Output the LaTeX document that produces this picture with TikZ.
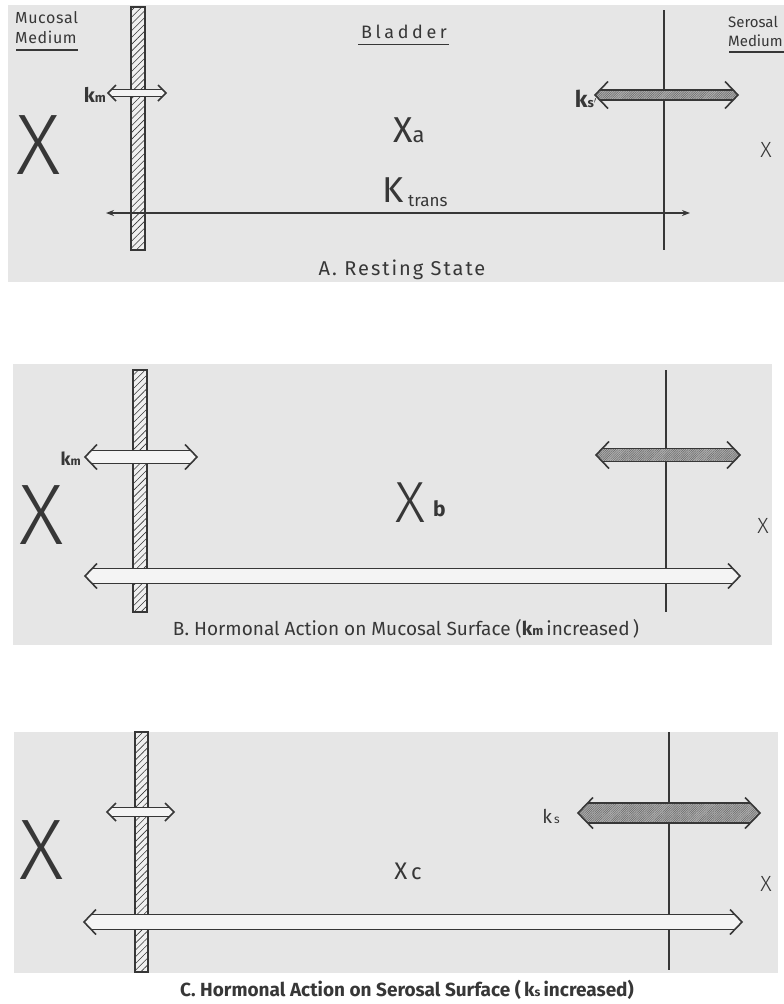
\documentclass[tikz,border=0pt]{standalone}
\usepackage{fontspec}
\setmainfont{Fira Sans}
\newfontfamily\thinfont{Fira Sans Light}
\usetikzlibrary{patterns, patterns.meta, arrows.meta, positioning}
\definecolor{ink}{RGB}{55,55,55}
\definecolor{paper}{RGB}{230,230,230}

% outlined double arrow with open heads: y, x0, x1, body half, head half, head length, fill
\newcommand{\flux}[7]{%
  \pgfmathsetmacro\fluxd{#6*#4/#5}
  \fill[#7] (#2,#1) -- ({#2+\fluxd},{#1-#4}) -- ({#3-\fluxd},{#1-#4}) -- (#3,#1)
    -- ({#3-\fluxd},{#1+#4}) -- ({#2+\fluxd},{#1+#4}) -- cycle;
  \draw[fluxline] ({#2+\fluxd},{#1-#4}) -- ({#3-\fluxd},{#1-#4})
    ({#2+\fluxd},{#1+#4}) -- ({#3-\fluxd},{#1+#4});
  \draw[fluxline] ({#2+#6},{#1-#5}) -- (#2,#1) -- ({#2+#6},{#1+#5})
    ({#3-#6},{#1-#5}) -- (#3,#1) -- ({#3-#6},{#1+#5});
}

\begin{document}
\begin{tikzpicture}[
    x=1pt, y=-1pt,
    panel/.style={fill=paper, draw=none},
    mucosa/.style={draw=ink, line width=1.2pt, fill=white!40!paper,
                   postaction={pattern={Lines[angle=45, distance=4.8pt, line width=0.6pt]}, pattern color=ink}},
    serosa/.style={draw=ink, line width=2.5pt},
    fluxline/.style={draw=ink, line width=1.6pt, line join=miter},
    light/.style={fill=white!55!paper},
    dark/.style={fill=black!30, postaction={pattern={Lines[angle=45, distance=1.6pt, line width=0.5pt]}, pattern color=black!60}},
    lbl/.style={inner sep=0pt, text=ink},
    bigx/.style={lbl, font=\thinfont\fontsize{86}{86}\selectfont},
    smallx/.style={lbl, font=\thinfont\fontsize{22}{22}\selectfont},
    caption/.style={lbl, font=\fontsize{19}{19}\selectfont},
    uline/.style={draw=ink, line width=1.3pt}
]
\useasboundingbox (0,0) rectangle (784,1004);

% ---------- A. resting state
\fill[panel] (8,5) rectangle (784,282);
\draw[mucosa] (131,7) rectangle (145,250);
\draw[serosa] (664,10) -- (664,250);

\coordinate (transAl) at (106,213);
\coordinate (transAr) at (690,213);
\draw[draw=ink, line width=1.6pt, {Stealth[length=8pt,width=6pt]}-{Stealth[length=8pt,width=6pt]}] (transAl) -- (transAr);

\flux{93}{108}{166}{3.5}{8}{8}{light}
\flux{95}{595}{738}{5}{13.5}{13}{dark}

\node[lbl, anchor=north west, align=left, font=\fontsize{16}{20}\selectfont\addfontfeature{LetterSpace=4}] (mucA) at (15,11) {Mucosal\\Medium};
\draw[uline] (16,50) -- (78,50);
\node[lbl, font=\fontsize{18}{18}\selectfont\addfontfeature{LetterSpace=20}] (bladder) at (404,32) {Bladder};
\draw[uline] (358,44.5) -- (449,44.5);
\node[lbl, anchor=north east, align=left, font=\fontsize{15}{19}\selectfont] (serA) at (783,16) {Serosal\\Medium};
\draw[uline] (729,52) -- (784,52);

\node[lbl, anchor=east, font=\bfseries\fontsize{20}{20}\selectfont] (kmA) at (106,95) {k{\fontsize{13}{13}\selectfont m}};
\node[lbl, anchor=east, font=\bfseries\fontsize{23}{23}\selectfont] (ksA) at (597,99) {k{\fontsize{13}{13}\selectfont s$'$}};
\node[lbl, font=\fontsize{36}{36}\selectfont] (xa) at (409,130) {X{\fontsize{22}{22}\selectfont a}};
\node[lbl, font=\fontsize{36}{36}\selectfont] (ktrans) at (393,190) {K};
\node[lbl, anchor=base west, font=\fontsize{17}{17}\selectfont] (transsub) at (408,206) {trans};
\node[smallx] (serxA) at (766,150) {X};
\node[bigx] (mucxA) at (39,145) {X};
\node[lbl, font=\fontsize{20}{20}\selectfont\addfontfeature{LetterSpace=10}] (capA) at (402,270) {A. Resting State};

% ---------- B. hormone on mucosal side
\fill[panel] (13,364) rectangle (772,645);
\draw[mucosa] (133,370) rectangle (147,612);
\draw[serosa] (666,370) -- (666,612);

\flux{576}{85}{740}{7.5}{12.5}{12}{light}
\flux{457}{85}{197}{6.5}{12.5}{12}{light}
\flux{455}{596}{740}{6.5}{13.5}{13}{dark}

\node[lbl, anchor=east, font=\bfseries\fontsize{18}{18}\selectfont] (kmB) at (81,459) {k{\fontsize{12}{12}\selectfont m}};
\node[bigx, font=\thinfont\fontsize{58}{58}\selectfont] (xb) at (410,503) {X};
\node[lbl, anchor=base west, font=\bfseries\fontsize{21}{21}\selectfont] (xbsub) at (433,516) {b};
\node[smallx] (serxB) at (763,526) {X};
\node[bigx] (mucxB) at (42,515) {X};
\node[caption] (capB) at (406,629) {B. Hormonal Action on Mucosal Surface (\textbf{k{\fontsize{13}{13}\selectfont m}}\,increased\,)};

% ---------- C. hormone on serosal side
\fill[panel] (14,732) rectangle (778,973);
\draw[mucosa] (135,732) rectangle (148,972);
\draw[serosa] (669,732) -- (669,970);

\flux{922}{84}{742}{7.5}{12.5}{12}{light}
\flux{812}{107}{174}{4.5}{9}{9}{light}
\flux{813}{578}{760}{10}{15.5}{15}{dark}

\node[lbl, anchor=east, font=\fontsize{19}{19}\selectfont] (ksC) at (560,816) {k{\fontsize{12}{12}\selectfont\,s}};
\node[lbl, font=\fontsize{24}{24}\selectfont] (xc) at (408,871) {X\,{\fontsize{22}{22}\selectfont c}};
\node[smallx] (serxC) at (766,884) {X};
\node[bigx] (mucxC) at (42,850) {X};
\node[caption, font=\bfseries\fontsize{19}{19}\selectfont] (capC) at (407,990) {C. Hormonal Action on Serosal Surface (\,k{\fontsize{12}{12}\selectfont s}\,increased)};
\end{tikzpicture}
\end{document}
